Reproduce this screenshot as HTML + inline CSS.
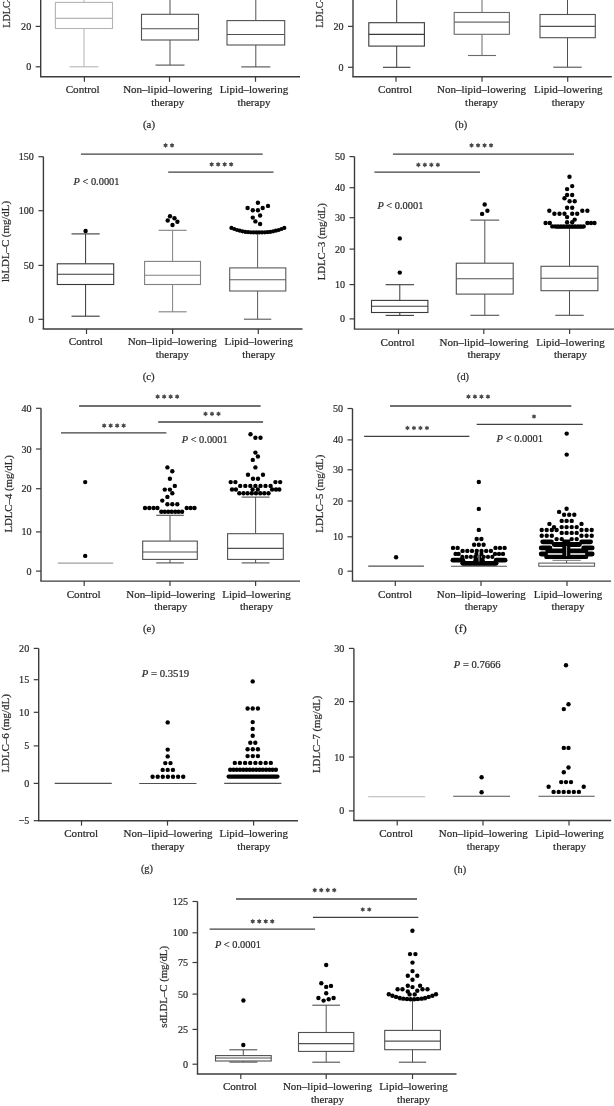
<!DOCTYPE html>
<html><head><meta charset="utf-8"><style>
html,body{margin:0;padding:0;background:#fff;}
svg{display:block;font-family:"Liberation Serif",serif;}
#w{width:614px;height:1106px;will-change:transform;}
text{stroke:#2a2a2a;stroke-width:0.22px;}
</style></head><body><div id="w">
<svg width="614" height="1106" viewBox="0 0 614 1106">
<rect width="614" height="1106" fill="#fff"/>
<line x1="40.7" y1="-2.0" x2="40.7" y2="76.8" stroke="#3c3c3c" stroke-width="1.4"/>
<line x1="40.0" y1="76.8" x2="300.0" y2="76.8" stroke="#3c3c3c" stroke-width="1.4"/>
<line x1="35.7" y1="26.4" x2="40.7" y2="26.4" stroke="#3c3c3c" stroke-width="1.2"/>
<text x="31.2" y="29.9" font-size="10.9" text-anchor="end" fill="#2a2a2a" textLength="10.1" lengthAdjust="spacingAndGlyphs">20</text>
<line x1="35.7" y1="66.8" x2="40.7" y2="66.8" stroke="#3c3c3c" stroke-width="1.2"/>
<text x="31.2" y="70.3" font-size="10.9" text-anchor="end" fill="#2a2a2a" textLength="5.05" lengthAdjust="spacingAndGlyphs">0</text>
<text transform="translate(10.0,-8.6) rotate(-90)" x="0" y="0" font-size="11.2" text-anchor="middle" fill="#2a2a2a" textLength="72.5" lengthAdjust="spacingAndGlyphs">LDLC–1 (mg/dL)</text>
<line x1="84.0" y1="-5.0" x2="84.0" y2="2.4" stroke="#b4b4b4" stroke-width="1.0"/>
<line x1="84.0" y1="28.5" x2="84.0" y2="66.8" stroke="#b4b4b4" stroke-width="1.0"/>
<line x1="69.6" y1="66.8" x2="98.4" y2="66.8" stroke="#b4b4b4" stroke-width="1.1"/>
<rect x="55.4" y="2.4" width="57.1" height="26.1" stroke="#b4b4b4" stroke-width="1.1" fill="#fff"/>
<line x1="55.4" y1="18.4" x2="112.5" y2="18.4" stroke="#b4b4b4" stroke-width="1.1"/>
<line x1="170.0" y1="-5.0" x2="170.0" y2="14.3" stroke="#505050" stroke-width="1.0"/>
<line x1="170.0" y1="40.0" x2="170.0" y2="65.1" stroke="#505050" stroke-width="1.0"/>
<line x1="155.5" y1="65.1" x2="184.5" y2="65.1" stroke="#505050" stroke-width="1.1"/>
<rect x="141.5" y="14.3" width="57.0" height="25.7" stroke="#505050" stroke-width="1.1" fill="#fff"/>
<line x1="141.5" y1="28.7" x2="198.5" y2="28.7" stroke="#505050" stroke-width="1.1"/>
<line x1="255.8" y1="-5.0" x2="255.8" y2="20.6" stroke="#505050" stroke-width="1.0"/>
<line x1="255.8" y1="45.0" x2="255.8" y2="66.9" stroke="#505050" stroke-width="1.0"/>
<line x1="241.3" y1="66.9" x2="270.3" y2="66.9" stroke="#505050" stroke-width="1.1"/>
<rect x="227.0" y="20.6" width="57.7" height="24.4" stroke="#505050" stroke-width="1.1" fill="#fff"/>
<line x1="227.0" y1="34.5" x2="284.7" y2="34.5" stroke="#505050" stroke-width="1.1"/>
<line x1="84.4" y1="76.8" x2="84.4" y2="81.8" stroke="#3c3c3c" stroke-width="1.2"/>
<line x1="169.5" y1="76.8" x2="169.5" y2="81.8" stroke="#3c3c3c" stroke-width="1.2"/>
<line x1="255.5" y1="76.8" x2="255.5" y2="81.8" stroke="#3c3c3c" stroke-width="1.2"/>
<text x="82.7" y="93.2" font-size="10.8" text-anchor="middle" fill="#2a2a2a" textLength="34" lengthAdjust="spacingAndGlyphs">Control</text>
<text x="167.7" y="93.2" font-size="10.8" text-anchor="middle" fill="#2a2a2a" textLength="89" lengthAdjust="spacingAndGlyphs">Non–lipid–lowering</text>
<text x="253.9" y="93.2" font-size="10.8" text-anchor="middle" fill="#2a2a2a" textLength="68.5" lengthAdjust="spacingAndGlyphs">Lipid–lowering</text>
<text x="167.7" y="105.8" font-size="10.8" text-anchor="middle" fill="#2a2a2a" textLength="33" lengthAdjust="spacingAndGlyphs">therapy</text>
<text x="253.9" y="105.8" font-size="10.8" text-anchor="middle" fill="#2a2a2a" textLength="33" lengthAdjust="spacingAndGlyphs">therapy</text>
<text x="149.0" y="127.6" font-size="10.8" text-anchor="middle" fill="#2a2a2a" textLength="12" lengthAdjust="spacingAndGlyphs">(a)</text>
<line x1="353.0" y1="-2.0" x2="353.0" y2="76.8" stroke="#3c3c3c" stroke-width="1.4"/>
<line x1="352.3" y1="76.8" x2="611.8" y2="76.8" stroke="#3c3c3c" stroke-width="1.4"/>
<line x1="348.0" y1="26.4" x2="353.0" y2="26.4" stroke="#3c3c3c" stroke-width="1.2"/>
<text x="343.5" y="29.9" font-size="10.9" text-anchor="end" fill="#2a2a2a" textLength="10.1" lengthAdjust="spacingAndGlyphs">20</text>
<line x1="348.0" y1="67.3" x2="353.0" y2="67.3" stroke="#3c3c3c" stroke-width="1.2"/>
<text x="343.5" y="70.8" font-size="10.9" text-anchor="end" fill="#2a2a2a" textLength="5.05" lengthAdjust="spacingAndGlyphs">0</text>
<text transform="translate(322.5,-8.4) rotate(-90)" x="0" y="0" font-size="11.2" text-anchor="middle" fill="#2a2a2a" textLength="72.5" lengthAdjust="spacingAndGlyphs">LDLC–2 (mg/dL)</text>
<line x1="396.7" y1="-5.0" x2="396.7" y2="22.7" stroke="#3a3a3a" stroke-width="1.0"/>
<line x1="396.7" y1="46.1" x2="396.7" y2="67.3" stroke="#3a3a3a" stroke-width="1.0"/>
<line x1="383.0" y1="67.3" x2="410.4" y2="67.3" stroke="#3a3a3a" stroke-width="1.1"/>
<rect x="368.8" y="22.7" width="55.6" height="23.4" stroke="#3a3a3a" stroke-width="1.1" fill="#fff"/>
<line x1="368.8" y1="34.4" x2="424.4" y2="34.4" stroke="#3a3a3a" stroke-width="1.1"/>
<line x1="482.0" y1="-5.0" x2="482.0" y2="12.5" stroke="#6a6a6a" stroke-width="1.0"/>
<line x1="482.0" y1="34.3" x2="482.0" y2="55.5" stroke="#6a6a6a" stroke-width="1.0"/>
<line x1="468.0" y1="55.5" x2="496.0" y2="55.5" stroke="#6a6a6a" stroke-width="1.1"/>
<rect x="454.2" y="12.5" width="55.2" height="21.8" stroke="#6a6a6a" stroke-width="1.1" fill="#fff"/>
<line x1="454.2" y1="22.1" x2="509.4" y2="22.1" stroke="#6a6a6a" stroke-width="1.1"/>
<line x1="567.5" y1="-5.0" x2="567.5" y2="14.5" stroke="#505050" stroke-width="1.0"/>
<line x1="567.5" y1="37.7" x2="567.5" y2="67.2" stroke="#505050" stroke-width="1.0"/>
<line x1="553.3" y1="67.2" x2="581.7" y2="67.2" stroke="#505050" stroke-width="1.1"/>
<rect x="540.0" y="14.5" width="55.3" height="23.2" stroke="#505050" stroke-width="1.1" fill="#fff"/>
<line x1="540.0" y1="26.4" x2="595.3" y2="26.4" stroke="#505050" stroke-width="1.1"/>
<line x1="396.0" y1="76.8" x2="396.0" y2="81.8" stroke="#3c3c3c" stroke-width="1.2"/>
<line x1="482.0" y1="76.8" x2="482.0" y2="81.8" stroke="#3c3c3c" stroke-width="1.2"/>
<line x1="567.7" y1="76.8" x2="567.7" y2="81.8" stroke="#3c3c3c" stroke-width="1.2"/>
<text x="395.0" y="93.2" font-size="10.8" text-anchor="middle" fill="#2a2a2a" textLength="34" lengthAdjust="spacingAndGlyphs">Control</text>
<text x="481.6" y="93.2" font-size="10.8" text-anchor="middle" fill="#2a2a2a" textLength="89" lengthAdjust="spacingAndGlyphs">Non–lipid–lowering</text>
<text x="568.2" y="93.2" font-size="10.8" text-anchor="middle" fill="#2a2a2a" textLength="68.5" lengthAdjust="spacingAndGlyphs">Lipid–lowering</text>
<text x="481.6" y="105.8" font-size="10.8" text-anchor="middle" fill="#2a2a2a" textLength="33" lengthAdjust="spacingAndGlyphs">therapy</text>
<text x="568.2" y="105.8" font-size="10.8" text-anchor="middle" fill="#2a2a2a" textLength="33" lengthAdjust="spacingAndGlyphs">therapy</text>
<text x="461.1" y="127.6" font-size="10.8" text-anchor="middle" fill="#2a2a2a" textLength="12" lengthAdjust="spacingAndGlyphs">(b)</text>
<line x1="43.4" y1="156.7" x2="43.4" y2="329.0" stroke="#3c3c3c" stroke-width="1.4"/>
<line x1="42.7" y1="329.0" x2="302.5" y2="329.0" stroke="#3c3c3c" stroke-width="1.4"/>
<line x1="38.4" y1="156.7" x2="43.4" y2="156.7" stroke="#3c3c3c" stroke-width="1.2"/>
<text x="33.9" y="160.2" font-size="10.9" text-anchor="end" fill="#2a2a2a" textLength="15.149999999999999" lengthAdjust="spacingAndGlyphs">150</text>
<line x1="38.4" y1="210.7" x2="43.4" y2="210.7" stroke="#3c3c3c" stroke-width="1.2"/>
<text x="33.9" y="214.2" font-size="10.9" text-anchor="end" fill="#2a2a2a" textLength="15.149999999999999" lengthAdjust="spacingAndGlyphs">100</text>
<line x1="38.4" y1="265.4" x2="43.4" y2="265.4" stroke="#3c3c3c" stroke-width="1.2"/>
<text x="33.9" y="268.9" font-size="10.9" text-anchor="end" fill="#2a2a2a" textLength="10.1" lengthAdjust="spacingAndGlyphs">50</text>
<line x1="38.4" y1="319.3" x2="43.4" y2="319.3" stroke="#3c3c3c" stroke-width="1.2"/>
<text x="33.9" y="322.8" font-size="10.9" text-anchor="end" fill="#2a2a2a" textLength="5.05" lengthAdjust="spacingAndGlyphs">0</text>
<text transform="translate(9.0,241.5) rotate(-90)" x="0" y="0" font-size="11.2" text-anchor="middle" fill="#2a2a2a" textLength="81" lengthAdjust="spacingAndGlyphs">lbLDL–C (mg/dL)</text>
<line x1="85.6" y1="233.9" x2="85.6" y2="263.8" stroke="#383838" stroke-width="1.0"/>
<line x1="85.6" y1="284.5" x2="85.6" y2="316.2" stroke="#383838" stroke-width="1.0"/>
<line x1="71.5" y1="233.9" x2="99.7" y2="233.9" stroke="#383838" stroke-width="1.1"/>
<line x1="71.5" y1="316.2" x2="99.7" y2="316.2" stroke="#383838" stroke-width="1.1"/>
<rect x="57.3" y="263.8" width="56.4" height="20.7" stroke="#383838" stroke-width="1.1" fill="#fff"/>
<line x1="57.3" y1="274.2" x2="113.7" y2="274.2" stroke="#383838" stroke-width="1.1"/>
<circle cx="85.6" cy="231.0" r="2.2"/>
<line x1="172.6" y1="230.3" x2="172.6" y2="261.4" stroke="#808080" stroke-width="1.0"/>
<line x1="172.6" y1="284.5" x2="172.6" y2="311.8" stroke="#808080" stroke-width="1.0"/>
<line x1="158.6" y1="230.3" x2="186.6" y2="230.3" stroke="#808080" stroke-width="1.1"/>
<line x1="158.6" y1="311.8" x2="186.6" y2="311.8" stroke="#808080" stroke-width="1.1"/>
<rect x="144.6" y="261.4" width="55.9" height="23.1" stroke="#808080" stroke-width="1.1" fill="#fff"/>
<line x1="144.6" y1="275.2" x2="200.5" y2="275.2" stroke="#808080" stroke-width="1.1"/>
<circle cx="170.0" cy="216.2" r="2.2"/>
<circle cx="167.7" cy="220.5" r="2.2"/>
<circle cx="174.5" cy="218.2" r="2.2"/>
<circle cx="177.4" cy="221.7" r="2.2"/>
<circle cx="172.5" cy="225.0" r="2.2"/>
<line x1="257.6" y1="233.2" x2="257.6" y2="267.9" stroke="#5a5a5a" stroke-width="1.0"/>
<line x1="257.6" y1="291.0" x2="257.6" y2="319.2" stroke="#5a5a5a" stroke-width="1.0"/>
<line x1="243.9" y1="233.2" x2="271.3" y2="233.2" stroke="#5a5a5a" stroke-width="1.1"/>
<line x1="243.9" y1="319.2" x2="271.3" y2="319.2" stroke="#5a5a5a" stroke-width="1.1"/>
<rect x="229.7" y="267.9" width="56.1" height="23.1" stroke="#5a5a5a" stroke-width="1.1" fill="#fff"/>
<line x1="229.7" y1="279.7" x2="285.8" y2="279.7" stroke="#5a5a5a" stroke-width="1.1"/>
<circle cx="257.9" cy="202.7" r="2.2"/>
<circle cx="247.6" cy="208.0" r="2.2"/>
<circle cx="268.0" cy="205.9" r="2.2"/>
<circle cx="252.8" cy="210.2" r="2.2"/>
<circle cx="257.9" cy="210.2" r="2.2"/>
<circle cx="262.7" cy="208.0" r="2.2"/>
<circle cx="252.8" cy="217.6" r="2.2"/>
<circle cx="260.1" cy="215.5" r="2.2"/>
<circle cx="255.4" cy="221.4" r="2.2"/>
<circle cx="260.1" cy="224.0" r="2.2"/>
<circle cx="231.4" cy="227.9" r="2.1"/>
<circle cx="234.2" cy="229.0" r="2.1"/>
<circle cx="237.0" cy="230.0" r="2.1"/>
<circle cx="239.8" cy="230.7" r="2.1"/>
<circle cx="242.5" cy="231.3" r="2.1"/>
<circle cx="245.3" cy="231.8" r="2.1"/>
<circle cx="248.1" cy="232.1" r="2.1"/>
<circle cx="250.9" cy="232.3" r="2.1"/>
<circle cx="253.7" cy="232.4" r="2.1"/>
<circle cx="256.5" cy="232.4" r="2.1"/>
<circle cx="259.2" cy="232.4" r="2.1"/>
<circle cx="262.0" cy="232.4" r="2.1"/>
<circle cx="264.8" cy="232.3" r="2.1"/>
<circle cx="267.6" cy="232.1" r="2.1"/>
<circle cx="270.4" cy="231.8" r="2.1"/>
<circle cx="273.2" cy="231.3" r="2.1"/>
<circle cx="275.9" cy="230.7" r="2.1"/>
<circle cx="278.7" cy="230.0" r="2.1"/>
<circle cx="281.5" cy="229.0" r="2.1"/>
<circle cx="284.3" cy="227.9" r="2.1"/>
<line x1="81.0" y1="154.2" x2="262.7" y2="154.2" stroke="#404040" stroke-width="1.3"/>
<polygon points="165.55,142.70 164.77,143.95 163.30,144.00 163.99,145.30 163.30,146.60 164.77,146.65 165.55,147.90 166.33,146.65 167.80,146.60 167.11,145.30 167.80,144.00 166.33,143.95" fill="#4a4a4a"/>
<polygon points="172.05,142.70 171.27,143.95 169.80,144.00 170.49,145.30 169.80,146.60 171.27,146.65 172.05,147.90 172.83,146.65 174.30,146.60 173.61,145.30 174.30,144.00 172.83,143.95" fill="#4a4a4a"/>
<line x1="168.2" y1="172.2" x2="273.5" y2="172.2" stroke="#404040" stroke-width="1.3"/>
<polygon points="211.65,161.80 210.87,163.05 209.40,163.10 210.09,164.40 209.40,165.70 210.87,165.75 211.65,167.00 212.43,165.75 213.90,165.70 213.21,164.40 213.90,163.10 212.43,163.05" fill="#4a4a4a"/>
<polygon points="218.15,161.80 217.37,163.05 215.90,163.10 216.59,164.40 215.90,165.70 217.37,165.75 218.15,167.00 218.93,165.75 220.40,165.70 219.71,164.40 220.40,163.10 218.93,163.05" fill="#4a4a4a"/>
<polygon points="224.65,161.80 223.87,163.05 222.40,163.10 223.09,164.40 222.40,165.70 223.87,165.75 224.65,167.00 225.43,165.75 226.90,165.70 226.21,164.40 226.90,163.10 225.43,163.05" fill="#4a4a4a"/>
<polygon points="231.15,161.80 230.37,163.05 228.90,163.10 229.59,164.40 228.90,165.70 230.37,165.75 231.15,167.00 231.93,165.75 233.40,165.70 232.71,164.40 233.40,163.10 231.93,163.05" fill="#4a4a4a"/>
<text x="73.5" y="184.5" font-size="11.3" fill="#2a2a2a" textLength="46" lengthAdjust="spacingAndGlyphs"><tspan font-style="italic">P</tspan> &lt; 0.0001</text>
<line x1="86.5" y1="329.0" x2="86.5" y2="334.0" stroke="#3c3c3c" stroke-width="1.2"/>
<line x1="172.6" y1="329.0" x2="172.6" y2="334.0" stroke="#3c3c3c" stroke-width="1.2"/>
<line x1="258.3" y1="329.0" x2="258.3" y2="334.0" stroke="#3c3c3c" stroke-width="1.2"/>
<text x="85.8" y="345.4" font-size="10.8" text-anchor="middle" fill="#2a2a2a" textLength="34" lengthAdjust="spacingAndGlyphs">Control</text>
<text x="172.2" y="345.4" font-size="10.8" text-anchor="middle" fill="#2a2a2a" textLength="89" lengthAdjust="spacingAndGlyphs">Non–lipid–lowering</text>
<text x="258.8" y="345.4" font-size="10.8" text-anchor="middle" fill="#2a2a2a" textLength="68.5" lengthAdjust="spacingAndGlyphs">Lipid–lowering</text>
<text x="172.2" y="358.0" font-size="10.8" text-anchor="middle" fill="#2a2a2a" textLength="33" lengthAdjust="spacingAndGlyphs">therapy</text>
<text x="258.8" y="358.0" font-size="10.8" text-anchor="middle" fill="#2a2a2a" textLength="33" lengthAdjust="spacingAndGlyphs">therapy</text>
<text x="148.7" y="379.8" font-size="10.8" text-anchor="middle" fill="#2a2a2a" textLength="12" lengthAdjust="spacingAndGlyphs">(c)</text>
<line x1="354.5" y1="156.6" x2="354.5" y2="329.1" stroke="#3c3c3c" stroke-width="1.4"/>
<line x1="353.8" y1="329.1" x2="614.0" y2="329.1" stroke="#3c3c3c" stroke-width="1.4"/>
<line x1="349.5" y1="156.6" x2="354.5" y2="156.6" stroke="#3c3c3c" stroke-width="1.2"/>
<text x="345.0" y="160.1" font-size="10.9" text-anchor="end" fill="#2a2a2a" textLength="10.1" lengthAdjust="spacingAndGlyphs">50</text>
<line x1="349.5" y1="187.7" x2="354.5" y2="187.7" stroke="#3c3c3c" stroke-width="1.2"/>
<text x="345.0" y="191.2" font-size="10.9" text-anchor="end" fill="#2a2a2a" textLength="10.1" lengthAdjust="spacingAndGlyphs">40</text>
<line x1="349.5" y1="217.7" x2="354.5" y2="217.7" stroke="#3c3c3c" stroke-width="1.2"/>
<text x="345.0" y="221.2" font-size="10.9" text-anchor="end" fill="#2a2a2a" textLength="10.1" lengthAdjust="spacingAndGlyphs">30</text>
<line x1="349.5" y1="249.1" x2="354.5" y2="249.1" stroke="#3c3c3c" stroke-width="1.2"/>
<text x="345.0" y="252.6" font-size="10.9" text-anchor="end" fill="#2a2a2a" textLength="10.1" lengthAdjust="spacingAndGlyphs">20</text>
<line x1="349.5" y1="284.6" x2="354.5" y2="284.6" stroke="#3c3c3c" stroke-width="1.2"/>
<text x="345.0" y="288.1" font-size="10.9" text-anchor="end" fill="#2a2a2a" textLength="10.1" lengthAdjust="spacingAndGlyphs">10</text>
<line x1="349.5" y1="318.9" x2="354.5" y2="318.9" stroke="#3c3c3c" stroke-width="1.2"/>
<text x="345.0" y="322.4" font-size="10.9" text-anchor="end" fill="#2a2a2a" textLength="5.05" lengthAdjust="spacingAndGlyphs">0</text>
<text transform="translate(325.0,241.8) rotate(-90)" x="0" y="0" font-size="11.2" text-anchor="middle" fill="#2a2a2a" textLength="77" lengthAdjust="spacingAndGlyphs">LDLC–3 (mg/dL)</text>
<line x1="399.8" y1="284.7" x2="399.8" y2="300.4" stroke="#3a3a3a" stroke-width="1.0"/>
<line x1="399.8" y1="312.5" x2="399.8" y2="315.4" stroke="#3a3a3a" stroke-width="1.0"/>
<line x1="385.6" y1="284.7" x2="414.0" y2="284.7" stroke="#3a3a3a" stroke-width="1.1"/>
<line x1="385.6" y1="315.4" x2="414.0" y2="315.4" stroke="#3a3a3a" stroke-width="1.1"/>
<rect x="371.5" y="300.4" width="56.4" height="12.1" stroke="#3a3a3a" stroke-width="1.1" fill="#fff"/>
<line x1="371.5" y1="306.2" x2="427.9" y2="306.2" stroke="#3a3a3a" stroke-width="1.1"/>
<circle cx="399.8" cy="238.4" r="2.2"/>
<circle cx="399.8" cy="272.6" r="2.2"/>
<line x1="484.8" y1="220.1" x2="484.8" y2="263.2" stroke="#505050" stroke-width="1.0"/>
<line x1="484.8" y1="294.1" x2="484.8" y2="315.3" stroke="#505050" stroke-width="1.0"/>
<line x1="470.4" y1="220.1" x2="499.2" y2="220.1" stroke="#505050" stroke-width="1.1"/>
<line x1="470.4" y1="315.3" x2="499.2" y2="315.3" stroke="#505050" stroke-width="1.1"/>
<rect x="456.3" y="263.2" width="56.9" height="30.9" stroke="#505050" stroke-width="1.1" fill="#fff"/>
<line x1="456.3" y1="278.7" x2="513.2" y2="278.7" stroke="#505050" stroke-width="1.1"/>
<circle cx="484.7" cy="204.5" r="2.2"/>
<circle cx="487.4" cy="210.7" r="2.2"/>
<circle cx="482.1" cy="213.9" r="2.2"/>
<line x1="569.5" y1="228.4" x2="569.5" y2="266.3" stroke="#505050" stroke-width="1.0"/>
<line x1="569.5" y1="290.7" x2="569.5" y2="315.3" stroke="#505050" stroke-width="1.0"/>
<line x1="555.3" y1="228.4" x2="583.7" y2="228.4" stroke="#505050" stroke-width="1.1"/>
<line x1="555.3" y1="315.3" x2="583.7" y2="315.3" stroke="#505050" stroke-width="1.1"/>
<rect x="541.0" y="266.3" width="56.9" height="24.4" stroke="#505050" stroke-width="1.1" fill="#fff"/>
<line x1="541.0" y1="278.3" x2="597.9" y2="278.3" stroke="#505050" stroke-width="1.1"/>
<circle cx="569.5" cy="176.8" r="2.2"/>
<circle cx="572.2" cy="186.1" r="2.2"/>
<circle cx="567.1" cy="189.1" r="2.2"/>
<circle cx="567.1" cy="195.0" r="2.2"/>
<circle cx="572.2" cy="195.0" r="2.2"/>
<circle cx="564.5" cy="198.3" r="2.2"/>
<circle cx="569.6" cy="201.3" r="2.2"/>
<circle cx="574.7" cy="201.3" r="2.2"/>
<circle cx="567.1" cy="207.8" r="2.2"/>
<circle cx="572.2" cy="207.8" r="2.2"/>
<circle cx="549.3" cy="210.8" r="2.2"/>
<circle cx="582.3" cy="210.8" r="2.2"/>
<circle cx="587.4" cy="210.8" r="2.2"/>
<circle cx="554.4" cy="213.7" r="2.2"/>
<circle cx="559.5" cy="213.7" r="2.2"/>
<circle cx="564.5" cy="213.7" r="2.2"/>
<circle cx="572.2" cy="213.7" r="2.2"/>
<circle cx="577.2" cy="213.7" r="2.2"/>
<circle cx="567.1" cy="217.1" r="2.2"/>
<circle cx="574.7" cy="219.6" r="2.2"/>
<circle cx="545.6" cy="223.0" r="2.2"/>
<circle cx="549.8" cy="223.0" r="2.2"/>
<circle cx="587.4" cy="223.0" r="2.2"/>
<circle cx="591.0" cy="223.0" r="2.2"/>
<circle cx="594.5" cy="223.0" r="2.2"/>
<circle cx="567.1" cy="222.2" r="2.2"/>
<circle cx="572.2" cy="222.2" r="2.2"/>
<circle cx="552.3" cy="226.4" r="2.2"/>
<circle cx="555.2" cy="226.4" r="2.2"/>
<circle cx="558.0" cy="226.4" r="2.2"/>
<circle cx="560.9" cy="226.4" r="2.2"/>
<circle cx="563.7" cy="226.4" r="2.2"/>
<circle cx="566.6" cy="226.4" r="2.2"/>
<circle cx="569.4" cy="226.4" r="2.2"/>
<circle cx="572.3" cy="226.4" r="2.2"/>
<circle cx="575.1" cy="226.4" r="2.2"/>
<circle cx="578.0" cy="226.4" r="2.2"/>
<circle cx="580.8" cy="226.4" r="2.2"/>
<circle cx="583.7" cy="226.4" r="2.2"/>
<line x1="393.0" y1="154.2" x2="574.0" y2="154.2" stroke="#404040" stroke-width="1.3"/>
<polygon points="471.55,142.70 470.77,143.95 469.30,144.00 469.99,145.30 469.30,146.60 470.77,146.65 471.55,147.90 472.33,146.65 473.80,146.60 473.11,145.30 473.80,144.00 472.33,143.95" fill="#4a4a4a"/>
<polygon points="478.05,142.70 477.27,143.95 475.80,144.00 476.49,145.30 475.80,146.60 477.27,146.65 478.05,147.90 478.83,146.65 480.30,146.60 479.61,145.30 480.30,144.00 478.83,143.95" fill="#4a4a4a"/>
<polygon points="484.55,142.70 483.77,143.95 482.30,144.00 482.99,145.30 482.30,146.60 483.77,146.65 484.55,147.90 485.33,146.65 486.80,146.60 486.11,145.30 486.80,144.00 485.33,143.95" fill="#4a4a4a"/>
<polygon points="491.05,142.70 490.27,143.95 488.80,144.00 489.49,145.30 488.80,146.60 490.27,146.65 491.05,147.90 491.83,146.65 493.30,146.60 492.61,145.30 493.30,144.00 491.83,143.95" fill="#4a4a4a"/>
<line x1="374.4" y1="172.2" x2="480.0" y2="172.2" stroke="#404040" stroke-width="1.3"/>
<polygon points="418.35,162.20 417.57,163.45 416.10,163.50 416.79,164.80 416.10,166.10 417.57,166.15 418.35,167.40 419.13,166.15 420.60,166.10 419.91,164.80 420.60,163.50 419.13,163.45" fill="#4a4a4a"/>
<polygon points="424.85,162.20 424.07,163.45 422.60,163.50 423.29,164.80 422.60,166.10 424.07,166.15 424.85,167.40 425.63,166.15 427.10,166.10 426.41,164.80 427.10,163.50 425.63,163.45" fill="#4a4a4a"/>
<polygon points="431.35,162.20 430.57,163.45 429.10,163.50 429.79,164.80 429.10,166.10 430.57,166.15 431.35,167.40 432.13,166.15 433.60,166.10 432.91,164.80 433.60,163.50 432.13,163.45" fill="#4a4a4a"/>
<polygon points="437.85,162.20 437.07,163.45 435.60,163.50 436.29,164.80 435.60,166.10 437.07,166.15 437.85,167.40 438.63,166.15 440.10,166.10 439.41,164.80 440.10,163.50 438.63,163.45" fill="#4a4a4a"/>
<text x="377.4" y="208.8" font-size="11.3" fill="#2a2a2a" textLength="46" lengthAdjust="spacingAndGlyphs"><tspan font-style="italic">P</tspan> &lt; 0.0001</text>
<line x1="398.5" y1="329.1" x2="398.5" y2="334.1" stroke="#3c3c3c" stroke-width="1.2"/>
<line x1="483.8" y1="329.1" x2="483.8" y2="334.1" stroke="#3c3c3c" stroke-width="1.2"/>
<line x1="569.6" y1="329.1" x2="569.6" y2="334.1" stroke="#3c3c3c" stroke-width="1.2"/>
<text x="397.5" y="345.5" font-size="10.8" text-anchor="middle" fill="#2a2a2a" textLength="34" lengthAdjust="spacingAndGlyphs">Control</text>
<text x="484.0" y="345.5" font-size="10.8" text-anchor="middle" fill="#2a2a2a" textLength="89" lengthAdjust="spacingAndGlyphs">Non–lipid–lowering</text>
<text x="570.5" y="345.5" font-size="10.8" text-anchor="middle" fill="#2a2a2a" textLength="68.5" lengthAdjust="spacingAndGlyphs">Lipid–lowering</text>
<text x="484.0" y="358.1" font-size="10.8" text-anchor="middle" fill="#2a2a2a" textLength="33" lengthAdjust="spacingAndGlyphs">therapy</text>
<text x="570.5" y="358.1" font-size="10.8" text-anchor="middle" fill="#2a2a2a" textLength="33" lengthAdjust="spacingAndGlyphs">therapy</text>
<text x="463.0" y="379.9" font-size="10.8" text-anchor="middle" fill="#2a2a2a" textLength="12" lengthAdjust="spacingAndGlyphs">(d)</text>
<line x1="41.0" y1="408.3" x2="41.0" y2="581.1" stroke="#3c3c3c" stroke-width="1.4"/>
<line x1="40.3" y1="581.1" x2="300.0" y2="581.1" stroke="#3c3c3c" stroke-width="1.4"/>
<line x1="36.0" y1="408.3" x2="41.0" y2="408.3" stroke="#3c3c3c" stroke-width="1.2"/>
<text x="31.5" y="411.8" font-size="10.9" text-anchor="end" fill="#2a2a2a" textLength="10.1" lengthAdjust="spacingAndGlyphs">40</text>
<line x1="36.0" y1="449.0" x2="41.0" y2="449.0" stroke="#3c3c3c" stroke-width="1.2"/>
<text x="31.5" y="452.5" font-size="10.9" text-anchor="end" fill="#2a2a2a" textLength="10.1" lengthAdjust="spacingAndGlyphs">30</text>
<line x1="36.0" y1="488.7" x2="41.0" y2="488.7" stroke="#3c3c3c" stroke-width="1.2"/>
<text x="31.5" y="492.2" font-size="10.9" text-anchor="end" fill="#2a2a2a" textLength="10.1" lengthAdjust="spacingAndGlyphs">20</text>
<line x1="36.0" y1="531.9" x2="41.0" y2="531.9" stroke="#3c3c3c" stroke-width="1.2"/>
<text x="31.5" y="535.4" font-size="10.9" text-anchor="end" fill="#2a2a2a" textLength="10.1" lengthAdjust="spacingAndGlyphs">10</text>
<line x1="36.0" y1="571.1" x2="41.0" y2="571.1" stroke="#3c3c3c" stroke-width="1.2"/>
<text x="31.5" y="574.6" font-size="10.9" text-anchor="end" fill="#2a2a2a" textLength="5.05" lengthAdjust="spacingAndGlyphs">0</text>
<text transform="translate(12.0,493.9) rotate(-90)" x="0" y="0" font-size="11.2" text-anchor="middle" fill="#2a2a2a" textLength="77.4" lengthAdjust="spacingAndGlyphs">LDLC–4 (mg/dL)</text>
<line x1="57.7" y1="563.1" x2="113.3" y2="563.1" stroke="#a0a0a0" stroke-width="1.1"/>
<circle cx="85.2" cy="482.1" r="2.2"/>
<circle cx="85.2" cy="555.9" r="2.2"/>
<line x1="170.0" y1="515.3" x2="170.0" y2="541.1" stroke="#505050" stroke-width="1.0"/>
<line x1="170.0" y1="559.4" x2="170.0" y2="562.9" stroke="#505050" stroke-width="1.0"/>
<line x1="156.2" y1="515.3" x2="183.8" y2="515.3" stroke="#505050" stroke-width="1.1"/>
<line x1="156.2" y1="562.9" x2="183.8" y2="562.9" stroke="#505050" stroke-width="1.1"/>
<rect x="142.7" y="541.1" width="54.6" height="18.3" stroke="#505050" stroke-width="1.1" fill="#fff"/>
<line x1="142.7" y1="552.0" x2="197.3" y2="552.0" stroke="#505050" stroke-width="1.1"/>
<circle cx="167.4" cy="467.4" r="2.2"/>
<circle cx="172.3" cy="471.3" r="2.2"/>
<circle cx="169.9" cy="478.7" r="2.2"/>
<circle cx="174.8" cy="485.9" r="2.2"/>
<circle cx="164.8" cy="489.6" r="2.2"/>
<circle cx="169.9" cy="489.6" r="2.2"/>
<circle cx="172.3" cy="493.2" r="2.2"/>
<circle cx="167.4" cy="496.9" r="2.2"/>
<circle cx="162.3" cy="500.6" r="2.2"/>
<circle cx="167.4" cy="504.2" r="2.2"/>
<circle cx="172.3" cy="504.2" r="2.2"/>
<circle cx="177.3" cy="504.2" r="2.2"/>
<circle cx="145.0" cy="508.0" r="2.2"/>
<circle cx="149.3" cy="508.0" r="2.2"/>
<circle cx="153.5" cy="508.0" r="2.2"/>
<circle cx="157.4" cy="508.0" r="2.2"/>
<circle cx="186.7" cy="508.0" r="2.2"/>
<circle cx="190.6" cy="508.0" r="2.2"/>
<circle cx="194.5" cy="508.0" r="2.2"/>
<circle cx="161.3" cy="511.7" r="2.2"/>
<circle cx="164.8" cy="511.7" r="2.2"/>
<circle cx="168.2" cy="511.7" r="2.2"/>
<circle cx="171.7" cy="511.7" r="2.2"/>
<circle cx="175.2" cy="511.7" r="2.2"/>
<circle cx="178.6" cy="511.7" r="2.2"/>
<circle cx="182.1" cy="511.7" r="2.2"/>
<line x1="255.6" y1="497.1" x2="255.6" y2="533.7" stroke="#505050" stroke-width="1.0"/>
<line x1="255.6" y1="559.4" x2="255.6" y2="562.9" stroke="#505050" stroke-width="1.0"/>
<line x1="241.7" y1="497.1" x2="269.5" y2="497.1" stroke="#505050" stroke-width="1.1"/>
<line x1="241.7" y1="562.9" x2="269.5" y2="562.9" stroke="#505050" stroke-width="1.1"/>
<rect x="227.6" y="533.7" width="55.7" height="25.7" stroke="#505050" stroke-width="1.1" fill="#fff"/>
<line x1="227.6" y1="548.4" x2="283.3" y2="548.4" stroke="#505050" stroke-width="1.1"/>
<circle cx="250.5" cy="434.3" r="2.2"/>
<circle cx="255.4" cy="437.8" r="2.2"/>
<circle cx="260.5" cy="437.8" r="2.2"/>
<circle cx="255.4" cy="452.6" r="2.2"/>
<circle cx="257.9" cy="456.5" r="2.2"/>
<circle cx="252.8" cy="459.9" r="2.2"/>
<circle cx="255.4" cy="467.4" r="2.2"/>
<circle cx="248.0" cy="474.8" r="2.2"/>
<circle cx="263.0" cy="474.8" r="2.2"/>
<circle cx="253.0" cy="478.7" r="2.2"/>
<circle cx="258.0" cy="478.7" r="2.2"/>
<circle cx="230.7" cy="482.1" r="2.2"/>
<circle cx="235.4" cy="482.1" r="2.2"/>
<circle cx="275.4" cy="482.1" r="2.2"/>
<circle cx="280.2" cy="482.1" r="2.2"/>
<circle cx="232.0" cy="489.5" r="2.2"/>
<circle cx="235.9" cy="489.5" r="2.2"/>
<circle cx="252.6" cy="489.5" r="2.2"/>
<circle cx="257.8" cy="489.5" r="2.2"/>
<circle cx="272.1" cy="489.5" r="2.2"/>
<circle cx="276.0" cy="489.5" r="2.2"/>
<circle cx="279.3" cy="489.5" r="2.2"/>
<circle cx="240.2" cy="485.9" r="2.2"/>
<circle cx="245.3" cy="485.9" r="2.2"/>
<circle cx="250.3" cy="485.9" r="2.2"/>
<circle cx="255.4" cy="485.9" r="2.2"/>
<circle cx="260.5" cy="485.9" r="2.2"/>
<circle cx="265.5" cy="485.9" r="2.2"/>
<circle cx="270.6" cy="485.9" r="2.2"/>
<circle cx="239.3" cy="493.2" r="2.2"/>
<circle cx="243.5" cy="493.2" r="2.2"/>
<circle cx="247.6" cy="493.2" r="2.2"/>
<circle cx="251.8" cy="493.2" r="2.2"/>
<circle cx="256.0" cy="493.2" r="2.2"/>
<circle cx="260.2" cy="493.2" r="2.2"/>
<circle cx="264.3" cy="493.2" r="2.2"/>
<circle cx="268.5" cy="493.2" r="2.2"/>
<line x1="79.1" y1="406.0" x2="260.6" y2="406.0" stroke="#404040" stroke-width="1.3"/>
<polygon points="157.65,394.10 156.87,395.35 155.40,395.40 156.09,396.70 155.40,398.00 156.87,398.05 157.65,399.30 158.43,398.05 159.90,398.00 159.21,396.70 159.90,395.40 158.43,395.35" fill="#4a4a4a"/>
<polygon points="164.15,394.10 163.37,395.35 161.90,395.40 162.59,396.70 161.90,398.00 163.37,398.05 164.15,399.30 164.93,398.05 166.40,398.00 165.71,396.70 166.40,395.40 164.93,395.35" fill="#4a4a4a"/>
<polygon points="170.65,394.10 169.87,395.35 168.40,395.40 169.09,396.70 168.40,398.00 169.87,398.05 170.65,399.30 171.43,398.05 172.90,398.00 172.21,396.70 172.90,395.40 171.43,395.35" fill="#4a4a4a"/>
<polygon points="177.15,394.10 176.37,395.35 174.90,395.40 175.59,396.70 174.90,398.00 176.37,398.05 177.15,399.30 177.93,398.05 179.40,398.00 178.71,396.70 179.40,395.40 177.93,395.35" fill="#4a4a4a"/>
<line x1="61.0" y1="432.9" x2="166.4" y2="432.9" stroke="#404040" stroke-width="1.3"/>
<polygon points="104.15,423.00 103.37,424.25 101.90,424.30 102.59,425.60 101.90,426.90 103.37,426.95 104.15,428.20 104.93,426.95 106.40,426.90 105.71,425.60 106.40,424.30 104.93,424.25" fill="#4a4a4a"/>
<polygon points="110.65,423.00 109.87,424.25 108.40,424.30 109.09,425.60 108.40,426.90 109.87,426.95 110.65,428.20 111.43,426.95 112.90,426.90 112.21,425.60 112.90,424.30 111.43,424.25" fill="#4a4a4a"/>
<polygon points="117.15,423.00 116.37,424.25 114.90,424.30 115.59,425.60 114.90,426.90 116.37,426.95 117.15,428.20 117.93,426.95 119.40,426.90 118.71,425.60 119.40,424.30 117.93,424.25" fill="#4a4a4a"/>
<polygon points="123.65,423.00 122.87,424.25 121.40,424.30 122.09,425.60 121.40,426.90 122.87,426.95 123.65,428.20 124.43,426.95 125.90,426.90 125.21,425.60 125.90,424.30 124.43,424.25" fill="#4a4a4a"/>
<line x1="158.2" y1="422.0" x2="263.1" y2="422.0" stroke="#404040" stroke-width="1.3"/>
<polygon points="205.50,411.20 204.72,412.45 203.25,412.50 203.94,413.80 203.25,415.10 204.72,415.15 205.50,416.40 206.28,415.15 207.75,415.10 207.06,413.80 207.75,412.50 206.28,412.45" fill="#4a4a4a"/>
<polygon points="212.00,411.20 211.22,412.45 209.75,412.50 210.44,413.80 209.75,415.10 211.22,415.15 212.00,416.40 212.78,415.15 214.25,415.10 213.56,413.80 214.25,412.50 212.78,412.45" fill="#4a4a4a"/>
<polygon points="218.50,411.20 217.72,412.45 216.25,412.50 216.94,413.80 216.25,415.10 217.72,415.15 218.50,416.40 219.28,415.15 220.75,415.10 220.06,413.80 220.75,412.50 219.28,412.45" fill="#4a4a4a"/>
<text x="181.7" y="442.7" font-size="11.3" fill="#2a2a2a" textLength="46" lengthAdjust="spacingAndGlyphs"><tspan font-style="italic">P</tspan> &lt; 0.0001</text>
<line x1="84.2" y1="581.1" x2="84.2" y2="586.1" stroke="#3c3c3c" stroke-width="1.2"/>
<line x1="170.0" y1="581.1" x2="170.0" y2="586.1" stroke="#3c3c3c" stroke-width="1.2"/>
<line x1="255.6" y1="581.1" x2="255.6" y2="586.1" stroke="#3c3c3c" stroke-width="1.2"/>
<text x="83.7" y="597.5" font-size="10.8" text-anchor="middle" fill="#2a2a2a" textLength="34" lengthAdjust="spacingAndGlyphs">Control</text>
<text x="170.8" y="597.5" font-size="10.8" text-anchor="middle" fill="#2a2a2a" textLength="89" lengthAdjust="spacingAndGlyphs">Non–lipid–lowering</text>
<text x="256.5" y="597.5" font-size="10.8" text-anchor="middle" fill="#2a2a2a" textLength="68.5" lengthAdjust="spacingAndGlyphs">Lipid–lowering</text>
<text x="170.8" y="610.1" font-size="10.8" text-anchor="middle" fill="#2a2a2a" textLength="33" lengthAdjust="spacingAndGlyphs">therapy</text>
<text x="256.5" y="610.1" font-size="10.8" text-anchor="middle" fill="#2a2a2a" textLength="33" lengthAdjust="spacingAndGlyphs">therapy</text>
<text x="149.0" y="631.9" font-size="10.8" text-anchor="middle" fill="#2a2a2a" textLength="12" lengthAdjust="spacingAndGlyphs">(e)</text>
<line x1="352.5" y1="408.5" x2="352.5" y2="581.1" stroke="#3c3c3c" stroke-width="1.4"/>
<line x1="351.8" y1="581.1" x2="611.1" y2="581.1" stroke="#3c3c3c" stroke-width="1.4"/>
<line x1="347.5" y1="408.5" x2="352.5" y2="408.5" stroke="#3c3c3c" stroke-width="1.2"/>
<text x="343.0" y="412.0" font-size="10.9" text-anchor="end" fill="#2a2a2a" textLength="10.1" lengthAdjust="spacingAndGlyphs">50</text>
<line x1="347.5" y1="439.9" x2="352.5" y2="439.9" stroke="#3c3c3c" stroke-width="1.2"/>
<text x="343.0" y="443.4" font-size="10.9" text-anchor="end" fill="#2a2a2a" textLength="10.1" lengthAdjust="spacingAndGlyphs">40</text>
<line x1="347.5" y1="469.8" x2="352.5" y2="469.8" stroke="#3c3c3c" stroke-width="1.2"/>
<text x="343.0" y="473.3" font-size="10.9" text-anchor="end" fill="#2a2a2a" textLength="10.1" lengthAdjust="spacingAndGlyphs">30</text>
<line x1="347.5" y1="501.0" x2="352.5" y2="501.0" stroke="#3c3c3c" stroke-width="1.2"/>
<text x="343.0" y="504.5" font-size="10.9" text-anchor="end" fill="#2a2a2a" textLength="10.1" lengthAdjust="spacingAndGlyphs">20</text>
<line x1="347.5" y1="536.8" x2="352.5" y2="536.8" stroke="#3c3c3c" stroke-width="1.2"/>
<text x="343.0" y="540.3" font-size="10.9" text-anchor="end" fill="#2a2a2a" textLength="10.1" lengthAdjust="spacingAndGlyphs">10</text>
<line x1="347.5" y1="571.2" x2="352.5" y2="571.2" stroke="#3c3c3c" stroke-width="1.2"/>
<text x="343.0" y="574.7" font-size="10.9" text-anchor="end" fill="#2a2a2a" textLength="5.05" lengthAdjust="spacingAndGlyphs">0</text>
<text transform="translate(322.7,493.7) rotate(-90)" x="0" y="0" font-size="11.2" text-anchor="middle" fill="#2a2a2a" textLength="78" lengthAdjust="spacingAndGlyphs">LDLC–5 (mg/dL)</text>
<line x1="368.2" y1="566.1" x2="423.9" y2="566.1" stroke="#505050" stroke-width="1.1"/>
<circle cx="396.1" cy="557.3" r="2.2"/>
<line x1="451.0" y1="566.3" x2="507.1" y2="566.3" stroke="#505050" stroke-width="1.1"/>
<circle cx="478.8" cy="482.0" r="2.2"/>
<circle cx="478.8" cy="508.9" r="2.2"/>
<circle cx="478.8" cy="529.9" r="2.2"/>
<circle cx="476.7" cy="539.0" r="2.2"/>
<circle cx="481.4" cy="539.0" r="2.2"/>
<circle cx="474.1" cy="544.8" r="2.2"/>
<circle cx="478.8" cy="544.8" r="2.2"/>
<circle cx="483.6" cy="544.8" r="2.2"/>
<circle cx="453.0" cy="547.9" r="2.2"/>
<circle cx="457.6" cy="547.9" r="2.2"/>
<circle cx="495.5" cy="547.9" r="2.2"/>
<circle cx="500.0" cy="547.9" r="2.2"/>
<circle cx="504.6" cy="547.9" r="2.2"/>
<circle cx="455.6" cy="553.9" r="2.2"/>
<circle cx="458.6" cy="553.9" r="2.2"/>
<circle cx="495.0" cy="553.9" r="2.2"/>
<circle cx="499.0" cy="553.9" r="2.2"/>
<circle cx="503.0" cy="553.9" r="2.2"/>
<circle cx="476.5" cy="553.9" r="2.2"/>
<circle cx="481.3" cy="553.9" r="2.2"/>
<circle cx="462.6" cy="550.9" r="2.2"/>
<circle cx="467.3" cy="550.9" r="2.2"/>
<circle cx="472.0" cy="550.9" r="2.2"/>
<circle cx="476.8" cy="550.9" r="2.2"/>
<circle cx="481.5" cy="550.9" r="2.2"/>
<circle cx="486.2" cy="550.9" r="2.2"/>
<circle cx="490.9" cy="550.9" r="2.2"/>
<circle cx="462.3" cy="556.9" r="2.1"/>
<circle cx="466.6" cy="556.9" r="2.1"/>
<circle cx="470.9" cy="556.9" r="2.1"/>
<circle cx="475.2" cy="556.9" r="2.1"/>
<circle cx="479.4" cy="556.9" r="2.1"/>
<circle cx="483.7" cy="556.9" r="2.1"/>
<circle cx="488.0" cy="556.9" r="2.1"/>
<circle cx="492.3" cy="556.9" r="2.1"/>
<rect x="450.5" y="557.8" width="14.7" height="4.8" rx="2.4" fill="#000"/>
<rect x="473.3" y="557.8" width="11.5" height="4.8" rx="2.4" fill="#000"/>
<rect x="493.8" y="557.8" width="13.7" height="4.8" rx="2.4" fill="#000"/>
<rect x="460.3" y="560.9" width="38.2" height="4.8" rx="2.4" fill="#000"/>
<line x1="566.6" y1="560.3" x2="566.6" y2="563.1" stroke="#505050" stroke-width="1.0"/>
<rect x="538.8" y="563.1" width="55.8" height="3.1" stroke="#505050" stroke-width="1.0" fill="#fff"/>
<line x1="552.5" y1="560.3" x2="580.8" y2="560.3" stroke="#707070" stroke-width="1.0"/>
<circle cx="566.7" cy="433.6" r="2.2"/>
<circle cx="566.7" cy="454.6" r="2.2"/>
<circle cx="566.6" cy="508.7" r="2.2"/>
<circle cx="559.1" cy="511.9" r="2.2"/>
<circle cx="564.1" cy="514.8" r="2.2"/>
<circle cx="569.2" cy="514.8" r="2.2"/>
<circle cx="574.3" cy="514.8" r="2.2"/>
<circle cx="561.7" cy="520.9" r="2.2"/>
<circle cx="566.6" cy="520.9" r="2.2"/>
<circle cx="571.7" cy="520.9" r="2.2"/>
<circle cx="549.4" cy="523.9" r="2.2"/>
<circle cx="581.5" cy="523.9" r="2.2"/>
<circle cx="554.0" cy="527.1" r="2.2"/>
<circle cx="561.7" cy="527.1" r="2.2"/>
<circle cx="566.6" cy="527.1" r="2.2"/>
<circle cx="571.7" cy="527.1" r="2.2"/>
<circle cx="576.7" cy="527.1" r="2.2"/>
<circle cx="541.7" cy="530.0" r="2.2"/>
<circle cx="546.7" cy="530.0" r="2.2"/>
<circle cx="551.8" cy="530.0" r="2.2"/>
<circle cx="556.6" cy="530.0" r="2.2"/>
<circle cx="581.5" cy="530.0" r="2.2"/>
<circle cx="586.6" cy="530.0" r="2.2"/>
<circle cx="591.7" cy="530.0" r="2.2"/>
<circle cx="561.7" cy="532.9" r="2.2"/>
<circle cx="566.6" cy="532.9" r="2.2"/>
<circle cx="571.7" cy="532.9" r="2.2"/>
<circle cx="576.7" cy="532.9" r="2.2"/>
<circle cx="541.7" cy="535.8" r="2.2"/>
<circle cx="546.7" cy="535.8" r="2.2"/>
<circle cx="551.8" cy="535.8" r="2.2"/>
<circle cx="581.5" cy="535.8" r="2.2"/>
<circle cx="586.6" cy="535.8" r="2.2"/>
<circle cx="591.7" cy="535.8" r="2.2"/>
<circle cx="556.6" cy="539.1" r="2.2"/>
<circle cx="561.7" cy="539.1" r="2.2"/>
<circle cx="571.7" cy="539.1" r="2.2"/>
<circle cx="576.7" cy="539.1" r="2.2"/>
<rect x="540.3" y="539.4" width="13.5" height="4.8" rx="2.4" fill="#000"/>
<rect x="579.3" y="539.4" width="13.7" height="4.8" rx="2.4" fill="#000"/>
<rect x="538.8" y="545.5" width="13.5" height="4.8" rx="2.4" fill="#000"/>
<rect x="581.3" y="545.5" width="13.3" height="4.8" rx="2.4" fill="#000"/>
<rect x="538.8" y="551.6" width="9.2" height="4.8" rx="2.4" fill="#000"/>
<rect x="585.0" y="551.6" width="9.6" height="4.8" rx="2.4" fill="#000"/>
<rect x="551.8" y="542.1" width="30.0" height="4.8" rx="2.4" fill="#000"/>
<rect x="545.3" y="548.4" width="43.0" height="4.8" rx="2.4" fill="#000"/>
<rect x="544.2" y="554.7" width="44.1" height="4.4" rx="2.2" fill="#000"/>
<rect x="562.3" y="539.5" width="8" height="19" fill="#000"/>
<line x1="566.6" y1="546.0" x2="566.6" y2="556.0" stroke="#fff" stroke-width="0.7"/>
<line x1="479.0" y1="551.5" x2="479.0" y2="561.5" stroke="#fff" stroke-width="0.7"/>
<line x1="390.0" y1="406.0" x2="571.3" y2="406.0" stroke="#404040" stroke-width="1.3"/>
<polygon points="468.45,394.10 467.67,395.35 466.20,395.40 466.89,396.70 466.20,398.00 467.67,398.05 468.45,399.30 469.23,398.05 470.70,398.00 470.01,396.70 470.70,395.40 469.23,395.35" fill="#4a4a4a"/>
<polygon points="474.95,394.10 474.17,395.35 472.70,395.40 473.39,396.70 472.70,398.00 474.17,398.05 474.95,399.30 475.73,398.05 477.20,398.00 476.51,396.70 477.20,395.40 475.73,395.35" fill="#4a4a4a"/>
<polygon points="481.45,394.10 480.67,395.35 479.20,395.40 479.89,396.70 479.20,398.00 480.67,398.05 481.45,399.30 482.23,398.05 483.70,398.00 483.01,396.70 483.70,395.40 482.23,395.35" fill="#4a4a4a"/>
<polygon points="487.95,394.10 487.17,395.35 485.70,395.40 486.39,396.70 485.70,398.00 487.17,398.05 487.95,399.30 488.73,398.05 490.20,398.00 489.51,396.70 490.20,395.40 488.73,395.35" fill="#4a4a4a"/>
<line x1="364.1" y1="436.4" x2="469.4" y2="436.4" stroke="#404040" stroke-width="1.3"/>
<polygon points="407.45,425.40 406.67,426.65 405.20,426.70 405.89,428.00 405.20,429.30 406.67,429.35 407.45,430.60 408.23,429.35 409.70,429.30 409.01,428.00 409.70,426.70 408.23,426.65" fill="#4a4a4a"/>
<polygon points="413.95,425.40 413.17,426.65 411.70,426.70 412.39,428.00 411.70,429.30 413.17,429.35 413.95,430.60 414.73,429.35 416.20,429.30 415.51,428.00 416.20,426.70 414.73,426.65" fill="#4a4a4a"/>
<polygon points="420.45,425.40 419.67,426.65 418.20,426.70 418.89,428.00 418.20,429.30 419.67,429.35 420.45,430.60 421.23,429.35 422.70,429.30 422.01,428.00 422.70,426.70 421.23,426.65" fill="#4a4a4a"/>
<polygon points="426.95,425.40 426.17,426.65 424.70,426.70 425.39,428.00 424.70,429.30 426.17,429.35 426.95,430.60 427.73,429.35 429.20,429.30 428.51,428.00 429.20,426.70 427.73,426.65" fill="#4a4a4a"/>
<line x1="476.7" y1="424.4" x2="582.8" y2="424.4" stroke="#404040" stroke-width="1.3"/>
<polygon points="534.00,413.90 533.22,415.15 531.75,415.20 532.44,416.50 531.75,417.80 533.22,417.85 534.00,419.10 534.78,417.85 536.25,417.80 535.56,416.50 536.25,415.20 534.78,415.15" fill="#4a4a4a"/>
<text x="496.6" y="442.3" font-size="11.3" fill="#2a2a2a" textLength="46.5" lengthAdjust="spacingAndGlyphs"><tspan font-style="italic">P</tspan> &lt; 0.0001</text>
<line x1="395.3" y1="581.1" x2="395.3" y2="586.1" stroke="#3c3c3c" stroke-width="1.2"/>
<line x1="481.0" y1="581.1" x2="481.0" y2="586.1" stroke="#3c3c3c" stroke-width="1.2"/>
<line x1="567.0" y1="581.1" x2="567.0" y2="586.1" stroke="#3c3c3c" stroke-width="1.2"/>
<text x="395.0" y="597.5" font-size="10.8" text-anchor="middle" fill="#2a2a2a" textLength="34" lengthAdjust="spacingAndGlyphs">Control</text>
<text x="481.3" y="597.5" font-size="10.8" text-anchor="middle" fill="#2a2a2a" textLength="89" lengthAdjust="spacingAndGlyphs">Non–lipid–lowering</text>
<text x="568.0" y="597.5" font-size="10.8" text-anchor="middle" fill="#2a2a2a" textLength="68.5" lengthAdjust="spacingAndGlyphs">Lipid–lowering</text>
<text x="481.3" y="610.1" font-size="10.8" text-anchor="middle" fill="#2a2a2a" textLength="33" lengthAdjust="spacingAndGlyphs">therapy</text>
<text x="568.0" y="610.1" font-size="10.8" text-anchor="middle" fill="#2a2a2a" textLength="33" lengthAdjust="spacingAndGlyphs">therapy</text>
<text x="460.7" y="631.9" font-size="10.8" text-anchor="middle" fill="#2a2a2a" textLength="12" lengthAdjust="spacingAndGlyphs">(f)</text>
<line x1="38.7" y1="648.4" x2="38.7" y2="820.7" stroke="#3c3c3c" stroke-width="1.4"/>
<line x1="38.0" y1="820.7" x2="298.0" y2="820.7" stroke="#3c3c3c" stroke-width="1.4"/>
<line x1="33.7" y1="648.4" x2="38.7" y2="648.4" stroke="#3c3c3c" stroke-width="1.2"/>
<text x="29.2" y="651.9" font-size="10.9" text-anchor="end" fill="#2a2a2a" textLength="10.1" lengthAdjust="spacingAndGlyphs">20</text>
<line x1="33.7" y1="679.7" x2="38.7" y2="679.7" stroke="#3c3c3c" stroke-width="1.2"/>
<text x="29.2" y="683.2" font-size="10.9" text-anchor="end" fill="#2a2a2a" textLength="10.1" lengthAdjust="spacingAndGlyphs">15</text>
<line x1="33.7" y1="712.3" x2="38.7" y2="712.3" stroke="#3c3c3c" stroke-width="1.2"/>
<text x="29.2" y="715.8" font-size="10.9" text-anchor="end" fill="#2a2a2a" textLength="10.1" lengthAdjust="spacingAndGlyphs">10</text>
<line x1="33.7" y1="745.9" x2="38.7" y2="745.9" stroke="#3c3c3c" stroke-width="1.2"/>
<text x="29.2" y="749.4" font-size="10.9" text-anchor="end" fill="#2a2a2a" textLength="5.05" lengthAdjust="spacingAndGlyphs">5</text>
<line x1="33.7" y1="783.4" x2="38.7" y2="783.4" stroke="#3c3c3c" stroke-width="1.2"/>
<text x="29.2" y="786.9" font-size="10.9" text-anchor="end" fill="#2a2a2a" textLength="5.05" lengthAdjust="spacingAndGlyphs">0</text>
<line x1="33.7" y1="820.7" x2="38.7" y2="820.7" stroke="#3c3c3c" stroke-width="1.2"/>
<text x="29.2" y="824.2" font-size="10.9" text-anchor="end" fill="#2a2a2a" textLength="10.7" lengthAdjust="spacingAndGlyphs">−5</text>
<text transform="translate(9.0,733.4) rotate(-90)" x="0" y="0" font-size="11.2" text-anchor="middle" fill="#2a2a2a" textLength="78.4" lengthAdjust="spacingAndGlyphs">LDLC–6 (mg/dL)</text>
<line x1="54.7" y1="783.4" x2="111.8" y2="783.4" stroke="#505050" stroke-width="1.1"/>
<line x1="139.2" y1="783.5" x2="196.5" y2="783.5" stroke="#505050" stroke-width="1.1"/>
<circle cx="167.7" cy="722.4" r="2.2"/>
<circle cx="167.7" cy="749.6" r="2.2"/>
<circle cx="167.7" cy="756.4" r="2.2"/>
<circle cx="165.3" cy="763.1" r="2.2"/>
<circle cx="170.5" cy="763.1" r="2.2"/>
<circle cx="162.7" cy="769.9" r="2.2"/>
<circle cx="167.7" cy="769.9" r="2.2"/>
<circle cx="172.9" cy="769.9" r="2.2"/>
<circle cx="152.6" cy="776.8" r="2.2"/>
<circle cx="157.7" cy="776.8" r="2.2"/>
<circle cx="162.8" cy="776.8" r="2.2"/>
<circle cx="167.9" cy="776.8" r="2.2"/>
<circle cx="173.0" cy="776.8" r="2.2"/>
<circle cx="178.1" cy="776.8" r="2.2"/>
<circle cx="183.2" cy="776.8" r="2.2"/>
<line x1="224.2" y1="783.4" x2="281.4" y2="783.4" stroke="#505050" stroke-width="1.1"/>
<circle cx="252.7" cy="681.4" r="2.2"/>
<circle cx="247.6" cy="708.5" r="2.2"/>
<circle cx="252.7" cy="708.5" r="2.2"/>
<circle cx="257.9" cy="708.5" r="2.2"/>
<circle cx="252.7" cy="722.1" r="2.2"/>
<circle cx="252.7" cy="728.9" r="2.2"/>
<circle cx="252.7" cy="735.7" r="2.2"/>
<circle cx="250.3" cy="742.7" r="2.2"/>
<circle cx="255.3" cy="742.7" r="2.2"/>
<circle cx="247.6" cy="749.3" r="2.2"/>
<circle cx="252.8" cy="749.3" r="2.2"/>
<circle cx="257.9" cy="749.3" r="2.2"/>
<circle cx="247.6" cy="756.1" r="2.2"/>
<circle cx="252.8" cy="756.1" r="2.2"/>
<circle cx="257.9" cy="756.1" r="2.2"/>
<circle cx="234.8" cy="762.9" r="2.2"/>
<circle cx="239.9" cy="762.9" r="2.2"/>
<circle cx="245.1" cy="762.9" r="2.2"/>
<circle cx="250.2" cy="762.9" r="2.2"/>
<circle cx="255.4" cy="762.9" r="2.2"/>
<circle cx="260.5" cy="762.9" r="2.2"/>
<circle cx="265.7" cy="762.9" r="2.2"/>
<circle cx="270.8" cy="762.9" r="2.2"/>
<circle cx="230.2" cy="769.8" r="2.2"/>
<circle cx="233.5" cy="769.8" r="2.2"/>
<circle cx="236.7" cy="769.8" r="2.2"/>
<circle cx="240.0" cy="769.8" r="2.2"/>
<circle cx="243.3" cy="769.8" r="2.2"/>
<circle cx="246.5" cy="769.8" r="2.2"/>
<circle cx="249.8" cy="769.8" r="2.2"/>
<circle cx="253.0" cy="769.8" r="2.2"/>
<circle cx="256.3" cy="769.8" r="2.2"/>
<circle cx="259.6" cy="769.8" r="2.2"/>
<circle cx="262.8" cy="769.8" r="2.2"/>
<circle cx="266.1" cy="769.8" r="2.2"/>
<circle cx="269.4" cy="769.8" r="2.2"/>
<circle cx="272.6" cy="769.8" r="2.2"/>
<circle cx="275.9" cy="769.8" r="2.2"/>
<rect x="226.5" y="774.5" width="53.1" height="4.2" rx="2.1" fill="#000"/>
<text x="141.7" y="676.8" font-size="11.3" fill="#2a2a2a" textLength="47.5" lengthAdjust="spacingAndGlyphs"><tspan font-style="italic">P</tspan> = 0.3519</text>
<line x1="81.5" y1="820.6" x2="81.5" y2="825.6" stroke="#3c3c3c" stroke-width="1.2"/>
<line x1="167.5" y1="820.6" x2="167.5" y2="825.6" stroke="#3c3c3c" stroke-width="1.2"/>
<line x1="253.6" y1="820.6" x2="253.6" y2="825.6" stroke="#3c3c3c" stroke-width="1.2"/>
<text x="81.2" y="837.0" font-size="10.8" text-anchor="middle" fill="#2a2a2a" textLength="34" lengthAdjust="spacingAndGlyphs">Control</text>
<text x="168.1" y="837.0" font-size="10.8" text-anchor="middle" fill="#2a2a2a" textLength="89" lengthAdjust="spacingAndGlyphs">Non–lipid–lowering</text>
<text x="253.8" y="837.0" font-size="10.8" text-anchor="middle" fill="#2a2a2a" textLength="68.5" lengthAdjust="spacingAndGlyphs">Lipid–lowering</text>
<text x="168.1" y="849.6" font-size="10.8" text-anchor="middle" fill="#2a2a2a" textLength="33" lengthAdjust="spacingAndGlyphs">therapy</text>
<text x="253.8" y="849.6" font-size="10.8" text-anchor="middle" fill="#2a2a2a" textLength="33" lengthAdjust="spacingAndGlyphs">therapy</text>
<text x="146.9" y="872.1" font-size="10.8" text-anchor="middle" fill="#2a2a2a" textLength="12" lengthAdjust="spacingAndGlyphs">(g)</text>
<line x1="353.9" y1="648.4" x2="353.9" y2="820.5" stroke="#3c3c3c" stroke-width="1.4"/>
<line x1="353.2" y1="820.5" x2="611.2" y2="820.5" stroke="#3c3c3c" stroke-width="1.4"/>
<line x1="348.9" y1="648.4" x2="353.9" y2="648.4" stroke="#3c3c3c" stroke-width="1.2"/>
<text x="344.4" y="651.9" font-size="10.9" text-anchor="end" fill="#2a2a2a" textLength="10.1" lengthAdjust="spacingAndGlyphs">30</text>
<line x1="348.9" y1="701.6" x2="353.9" y2="701.6" stroke="#3c3c3c" stroke-width="1.2"/>
<text x="344.4" y="705.1" font-size="10.9" text-anchor="end" fill="#2a2a2a" textLength="10.1" lengthAdjust="spacingAndGlyphs">20</text>
<line x1="348.9" y1="757.0" x2="353.9" y2="757.0" stroke="#3c3c3c" stroke-width="1.2"/>
<text x="344.4" y="760.5" font-size="10.9" text-anchor="end" fill="#2a2a2a" textLength="10.1" lengthAdjust="spacingAndGlyphs">10</text>
<line x1="348.9" y1="810.9" x2="353.9" y2="810.9" stroke="#3c3c3c" stroke-width="1.2"/>
<text x="344.4" y="814.4" font-size="10.9" text-anchor="end" fill="#2a2a2a" textLength="5.05" lengthAdjust="spacingAndGlyphs">0</text>
<text transform="translate(319.8,734.3) rotate(-90)" x="0" y="0" font-size="11.2" text-anchor="middle" fill="#2a2a2a" textLength="77.3" lengthAdjust="spacingAndGlyphs">LDLC–7 (mg/dL)</text>
<line x1="368.2" y1="796.7" x2="425.2" y2="796.7" stroke="#b4b4b4" stroke-width="1.1"/>
<line x1="453.2" y1="796.3" x2="510.0" y2="796.3" stroke="#505050" stroke-width="1.1"/>
<circle cx="481.6" cy="777.3" r="2.2"/>
<circle cx="481.6" cy="792.2" r="2.2"/>
<line x1="538.5" y1="796.3" x2="594.7" y2="796.3" stroke="#505050" stroke-width="1.1"/>
<circle cx="566.0" cy="665.2" r="2.2"/>
<circle cx="568.5" cy="704.3" r="2.2"/>
<circle cx="563.8" cy="709.1" r="2.2"/>
<circle cx="563.8" cy="747.9" r="2.2"/>
<circle cx="568.5" cy="747.9" r="2.2"/>
<circle cx="568.5" cy="767.5" r="2.2"/>
<circle cx="563.8" cy="772.3" r="2.2"/>
<circle cx="561.2" cy="782.1" r="2.2"/>
<circle cx="566.0" cy="782.1" r="2.2"/>
<circle cx="571.0" cy="782.1" r="2.2"/>
<circle cx="548.6" cy="786.8" r="2.2"/>
<circle cx="583.7" cy="786.8" r="2.2"/>
<circle cx="553.6" cy="791.9" r="2.2"/>
<circle cx="558.7" cy="791.9" r="2.2"/>
<circle cx="563.7" cy="791.9" r="2.2"/>
<circle cx="568.8" cy="791.9" r="2.2"/>
<circle cx="573.8" cy="791.9" r="2.2"/>
<circle cx="578.9" cy="791.9" r="2.2"/>
<text x="453.8" y="667.7" font-size="11.3" fill="#2a2a2a" textLength="46.8" lengthAdjust="spacingAndGlyphs"><tspan font-style="italic">P</tspan> = 0.7666</text>
<line x1="397.2" y1="820.5" x2="397.2" y2="825.5" stroke="#3c3c3c" stroke-width="1.2"/>
<line x1="483.0" y1="820.5" x2="483.0" y2="825.5" stroke="#3c3c3c" stroke-width="1.2"/>
<line x1="569.0" y1="820.5" x2="569.0" y2="825.5" stroke="#3c3c3c" stroke-width="1.2"/>
<text x="396.2" y="836.9" font-size="10.8" text-anchor="middle" fill="#2a2a2a" textLength="34" lengthAdjust="spacingAndGlyphs">Control</text>
<text x="483.3" y="836.9" font-size="10.8" text-anchor="middle" fill="#2a2a2a" textLength="89" lengthAdjust="spacingAndGlyphs">Non–lipid–lowering</text>
<text x="569.6" y="836.9" font-size="10.8" text-anchor="middle" fill="#2a2a2a" textLength="68.5" lengthAdjust="spacingAndGlyphs">Lipid–lowering</text>
<text x="483.3" y="849.5" font-size="10.8" text-anchor="middle" fill="#2a2a2a" textLength="33" lengthAdjust="spacingAndGlyphs">therapy</text>
<text x="569.6" y="849.5" font-size="10.8" text-anchor="middle" fill="#2a2a2a" textLength="33" lengthAdjust="spacingAndGlyphs">therapy</text>
<text x="460.1" y="872.5" font-size="10.8" text-anchor="middle" fill="#2a2a2a" textLength="12" lengthAdjust="spacingAndGlyphs">(h)</text>
<line x1="197.5" y1="901.5" x2="197.5" y2="1074.0" stroke="#3c3c3c" stroke-width="1.4"/>
<line x1="196.8" y1="1074.0" x2="456.5" y2="1074.0" stroke="#3c3c3c" stroke-width="1.4"/>
<line x1="192.5" y1="901.5" x2="197.5" y2="901.5" stroke="#3c3c3c" stroke-width="1.2"/>
<text x="188.0" y="905.0" font-size="10.9" text-anchor="end" fill="#2a2a2a" textLength="15.149999999999999" lengthAdjust="spacingAndGlyphs">125</text>
<line x1="192.5" y1="932.8" x2="197.5" y2="932.8" stroke="#3c3c3c" stroke-width="1.2"/>
<text x="188.0" y="936.3" font-size="10.9" text-anchor="end" fill="#2a2a2a" textLength="15.149999999999999" lengthAdjust="spacingAndGlyphs">100</text>
<line x1="192.5" y1="962.5" x2="197.5" y2="962.5" stroke="#3c3c3c" stroke-width="1.2"/>
<text x="188.0" y="966.0" font-size="10.9" text-anchor="end" fill="#2a2a2a" textLength="10.1" lengthAdjust="spacingAndGlyphs">75</text>
<line x1="192.5" y1="994.1" x2="197.5" y2="994.1" stroke="#3c3c3c" stroke-width="1.2"/>
<text x="188.0" y="997.6" font-size="10.9" text-anchor="end" fill="#2a2a2a" textLength="10.1" lengthAdjust="spacingAndGlyphs">50</text>
<line x1="192.5" y1="1029.4" x2="197.5" y2="1029.4" stroke="#3c3c3c" stroke-width="1.2"/>
<text x="188.0" y="1032.9" font-size="10.9" text-anchor="end" fill="#2a2a2a" textLength="10.1" lengthAdjust="spacingAndGlyphs">25</text>
<line x1="192.5" y1="1064.2" x2="197.5" y2="1064.2" stroke="#3c3c3c" stroke-width="1.2"/>
<text x="188.0" y="1067.7" font-size="10.9" text-anchor="end" fill="#2a2a2a" textLength="5.05" lengthAdjust="spacingAndGlyphs">0</text>
<text transform="translate(167.0,986.8) rotate(-90)" x="0" y="0" font-size="11.2" text-anchor="middle" fill="#2a2a2a" textLength="81.7" lengthAdjust="spacingAndGlyphs">sdLDL–C (mg/dL)</text>
<line x1="243.3" y1="1049.8" x2="243.3" y2="1055.6" stroke="#505050" stroke-width="1.0"/>
<line x1="243.3" y1="1061.0" x2="243.3" y2="1062.1" stroke="#505050" stroke-width="1.0"/>
<line x1="229.3" y1="1049.8" x2="257.3" y2="1049.8" stroke="#505050" stroke-width="1.1"/>
<line x1="229.3" y1="1062.1" x2="257.3" y2="1062.1" stroke="#505050" stroke-width="1.1"/>
<rect x="215.5" y="1055.6" width="55.7" height="5.4" stroke="#505050" stroke-width="1.1" fill="#fff"/>
<line x1="215.5" y1="1058.0" x2="271.2" y2="1058.0" stroke="#505050" stroke-width="1.1"/>
<circle cx="243.4" cy="1000.5" r="2.2"/>
<circle cx="243.3" cy="1045.0" r="2.2"/>
<line x1="326.2" y1="1005.2" x2="326.2" y2="1032.5" stroke="#505050" stroke-width="1.0"/>
<line x1="326.2" y1="1051.4" x2="326.2" y2="1062.2" stroke="#505050" stroke-width="1.0"/>
<line x1="312.3" y1="1005.2" x2="340.1" y2="1005.2" stroke="#505050" stroke-width="1.1"/>
<line x1="312.3" y1="1062.2" x2="340.1" y2="1062.2" stroke="#505050" stroke-width="1.1"/>
<rect x="298.5" y="1032.5" width="55.3" height="18.9" stroke="#505050" stroke-width="1.1" fill="#fff"/>
<line x1="298.5" y1="1043.6" x2="353.8" y2="1043.6" stroke="#505050" stroke-width="1.1"/>
<circle cx="326.2" cy="965.0" r="2.2"/>
<circle cx="321.3" cy="983.3" r="2.2"/>
<circle cx="326.2" cy="986.9" r="2.2"/>
<circle cx="331.0" cy="985.9" r="2.2"/>
<circle cx="326.2" cy="993.2" r="2.2"/>
<circle cx="318.4" cy="998.0" r="2.2"/>
<circle cx="323.6" cy="1000.6" r="2.2"/>
<circle cx="328.7" cy="999.3" r="2.2"/>
<circle cx="333.6" cy="998.0" r="2.2"/>
<line x1="412.5" y1="999.9" x2="412.5" y2="1030.4" stroke="#505050" stroke-width="1.0"/>
<line x1="412.5" y1="1049.7" x2="412.5" y2="1062.2" stroke="#505050" stroke-width="1.0"/>
<line x1="398.8" y1="999.9" x2="426.2" y2="999.9" stroke="#505050" stroke-width="1.1"/>
<line x1="398.8" y1="1062.2" x2="426.2" y2="1062.2" stroke="#505050" stroke-width="1.1"/>
<rect x="384.7" y="1030.4" width="55.7" height="19.3" stroke="#505050" stroke-width="1.1" fill="#fff"/>
<line x1="384.7" y1="1041.1" x2="440.4" y2="1041.1" stroke="#505050" stroke-width="1.1"/>
<circle cx="412.4" cy="930.8" r="2.2"/>
<circle cx="410.0" cy="954.1" r="2.2"/>
<circle cx="415.4" cy="954.1" r="2.2"/>
<circle cx="412.5" cy="962.6" r="2.2"/>
<circle cx="412.5" cy="971.1" r="2.2"/>
<circle cx="407.8" cy="975.8" r="2.2"/>
<circle cx="417.3" cy="975.8" r="2.2"/>
<circle cx="412.5" cy="979.8" r="2.2"/>
<circle cx="407.8" cy="985.7" r="2.2"/>
<circle cx="420.1" cy="985.7" r="2.2"/>
<circle cx="412.5" cy="987.1" r="2.2"/>
<circle cx="397.6" cy="989.3" r="2.2"/>
<circle cx="402.5" cy="989.3" r="2.2"/>
<circle cx="422.5" cy="989.3" r="2.2"/>
<circle cx="427.5" cy="989.3" r="2.2"/>
<circle cx="407.8" cy="991.5" r="2.2"/>
<circle cx="417.3" cy="990.8" r="2.2"/>
<circle cx="409.6" cy="994.4" r="2.2"/>
<circle cx="414.7" cy="994.4" r="2.2"/>
<circle cx="388.8" cy="994.3" r="2.2"/>
<circle cx="392.4" cy="995.7" r="2.2"/>
<circle cx="396.1" cy="996.9" r="2.2"/>
<circle cx="399.7" cy="997.9" r="2.2"/>
<circle cx="403.3" cy="998.6" r="2.2"/>
<circle cx="407.0" cy="999.0" r="2.2"/>
<circle cx="410.6" cy="999.3" r="2.2"/>
<circle cx="414.2" cy="999.3" r="2.2"/>
<circle cx="417.8" cy="999.0" r="2.2"/>
<circle cx="421.5" cy="998.6" r="2.2"/>
<circle cx="425.1" cy="997.9" r="2.2"/>
<circle cx="428.7" cy="996.9" r="2.2"/>
<circle cx="432.4" cy="995.7" r="2.2"/>
<circle cx="436.0" cy="994.3" r="2.2"/>
<line x1="236.0" y1="899.0" x2="417.0" y2="899.0" stroke="#404040" stroke-width="1.3"/>
<polygon points="314.75,887.60 313.97,888.85 312.50,888.90 313.19,890.20 312.50,891.50 313.97,891.55 314.75,892.80 315.53,891.55 317.00,891.50 316.31,890.20 317.00,888.90 315.53,888.85" fill="#4a4a4a"/>
<polygon points="321.25,887.60 320.47,888.85 319.00,888.90 319.69,890.20 319.00,891.50 320.47,891.55 321.25,892.80 322.03,891.55 323.50,891.50 322.81,890.20 323.50,888.90 322.03,888.85" fill="#4a4a4a"/>
<polygon points="327.75,887.60 326.97,888.85 325.50,888.90 326.19,890.20 325.50,891.50 326.97,891.55 327.75,892.80 328.53,891.55 330.00,891.50 329.31,890.20 330.00,888.90 328.53,888.85" fill="#4a4a4a"/>
<polygon points="334.25,887.60 333.47,888.85 332.00,888.90 332.69,890.20 332.00,891.50 333.47,891.55 334.25,892.80 335.03,891.55 336.50,891.50 335.81,890.20 336.50,888.90 335.03,888.85" fill="#4a4a4a"/>
<line x1="209.6" y1="929.2" x2="315.1" y2="929.2" stroke="#404040" stroke-width="1.3"/>
<polygon points="252.75,918.80 251.97,920.05 250.50,920.10 251.19,921.40 250.50,922.70 251.97,922.75 252.75,924.00 253.53,922.75 255.00,922.70 254.31,921.40 255.00,920.10 253.53,920.05" fill="#4a4a4a"/>
<polygon points="259.25,918.80 258.47,920.05 257.00,920.10 257.69,921.40 257.00,922.70 258.47,922.75 259.25,924.00 260.03,922.75 261.50,922.70 260.81,921.40 261.50,920.10 260.03,920.05" fill="#4a4a4a"/>
<polygon points="265.75,918.80 264.97,920.05 263.50,920.10 264.19,921.40 263.50,922.70 264.97,922.75 265.75,924.00 266.53,922.75 268.00,922.70 267.31,921.40 268.00,920.10 266.53,920.05" fill="#4a4a4a"/>
<polygon points="272.25,918.80 271.47,920.05 270.00,920.10 270.69,921.40 270.00,922.70 271.47,922.75 272.25,924.00 273.03,922.75 274.50,922.70 273.81,921.40 274.50,920.10 273.03,920.05" fill="#4a4a4a"/>
<line x1="312.9" y1="917.3" x2="418.3" y2="917.3" stroke="#404040" stroke-width="1.3"/>
<polygon points="362.75,906.90 361.97,908.15 360.50,908.20 361.19,909.50 360.50,910.80 361.97,910.85 362.75,912.10 363.53,910.85 365.00,910.80 364.31,909.50 365.00,908.20 363.53,908.15" fill="#4a4a4a"/>
<polygon points="369.25,906.90 368.47,908.15 367.00,908.20 367.69,909.50 367.00,910.80 368.47,910.85 369.25,912.10 370.03,910.85 371.50,910.80 370.81,909.50 371.50,908.20 370.03,908.15" fill="#4a4a4a"/>
<text x="214.9" y="948.3" font-size="11.3" fill="#2a2a2a" textLength="46" lengthAdjust="spacingAndGlyphs"><tspan font-style="italic">P</tspan> &lt; 0.0001</text>
<line x1="240.8" y1="1074.0" x2="240.8" y2="1079.0" stroke="#3c3c3c" stroke-width="1.2"/>
<line x1="326.2" y1="1074.0" x2="326.2" y2="1079.0" stroke="#3c3c3c" stroke-width="1.2"/>
<line x1="412.5" y1="1074.0" x2="412.5" y2="1079.0" stroke="#3c3c3c" stroke-width="1.2"/>
<text x="239.9" y="1090.4" font-size="10.8" text-anchor="middle" fill="#2a2a2a" textLength="34" lengthAdjust="spacingAndGlyphs">Control</text>
<text x="327.4" y="1090.4" font-size="10.8" text-anchor="middle" fill="#2a2a2a" textLength="89" lengthAdjust="spacingAndGlyphs">Non–lipid–lowering</text>
<text x="413.4" y="1090.4" font-size="10.8" text-anchor="middle" fill="#2a2a2a" textLength="68.5" lengthAdjust="spacingAndGlyphs">Lipid–lowering</text>
<text x="327.4" y="1103.0" font-size="10.8" text-anchor="middle" fill="#2a2a2a" textLength="33" lengthAdjust="spacingAndGlyphs">therapy</text>
<text x="413.4" y="1103.0" font-size="10.8" text-anchor="middle" fill="#2a2a2a" textLength="33" lengthAdjust="spacingAndGlyphs">therapy</text>
</svg></div>
</body></html>
